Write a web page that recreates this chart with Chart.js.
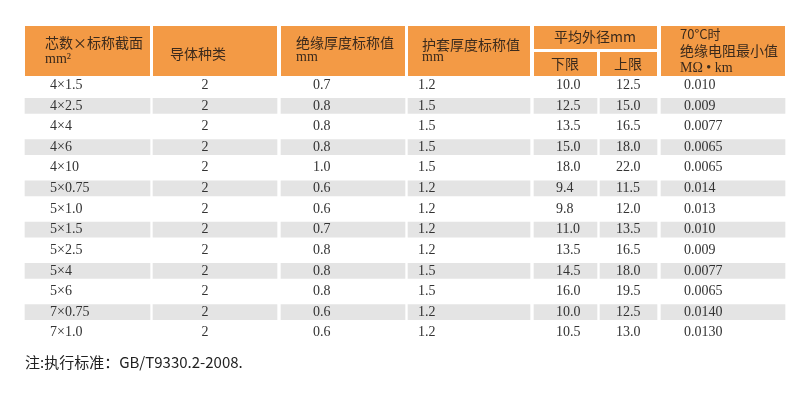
<!DOCTYPE html><html><head><meta charset="utf-8">
<script src="https://cdn.jsdelivr.net/npm/chart.js@4"></script>
<style>html,body{margin:0;background:#fff}#w{width:800px;height:409px}</style></head><body>
<div id="w"><canvas id="c"></canvas></div>
<script>
const sizes=["4×1.5","4×2.5","4×4","4×6","4×10","5×0.75","5×1.0","5×1.5","5×2.5","5×4","5×6","7×0.75","7×1.0"];
const conductor=["2","2","2","2","2","2","2","2","2","2","2","2","2"];
const insulation=["0.7","0.8","0.8","0.8","1.0","0.6","0.6","0.7","0.8","0.8","0.8","0.6","0.6"];
const sheath=["1.2","1.5","1.5","1.5","1.5","1.2","1.2","1.2","1.2","1.5","1.5","1.2","1.2"];
const odLower=["10.0","12.5","13.5","15.0","18.0","9.4","9.8","11.0","13.5","14.5","16.0","10.0","10.5"];
const odUpper=["12.5","15.0","16.5","18.0","22.0","11.5","12.0","13.5","16.5","18.0","19.5","12.5","13.0"];
const resistance=["0.010","0.009","0.0077","0.0065","0.0065","0.014","0.013","0.010","0.009","0.0077","0.0065","0.0140","0.0130"];
const footnote="注:执行标准：GB/T9330.2-2008.";

const cols=[[25,150],[153,277],[281,405],[408,530],[534,597],[600,657],[661,785]];
const textX=[50,205,313,418,556,616,684];
const columnsData=[sizes,conductor,insulation,sheath,odLower,odUpper,resistance];
const ORANGE='#f39a45';
const stripeSets=cols.map(c=>({type:'bar',grouped:false,data:sizes.map((s,i)=>i%2===1?{x:[c[0],c[1]],y:i}:null).filter(Boolean),
  backgroundColor:'#e4e4e4',barThickness:15,borderWidth:0}));

const tablePlugin={id:'table',
 beforeDatasetsDraw(ch){const ctx=ch.ctx,x=ch.scales.x;
  const box=(a,b,t,h)=>{ctx.fillStyle=ORANGE;ctx.fillRect(x.getPixelForValue(a),t,x.getPixelForValue(b)-x.getPixelForValue(a),h);};
  [0,1,2,3,6].forEach(i=>box(cols[i][0],cols[i][1],26,50));
  box(cols[4][0],cols[5][1],26,23);box(cols[4][0],cols[4][1],52,24);box(cols[5][0],cols[5][1],52,24);
 },
 afterDatasetsDraw(ch){const ctx=ch.ctx,x=ch.scales.x,y=ch.scales.y;
  const cjk='"Noto Sans CJK SC"',ser='"Liberation Serif"';
  ctx.textBaseline='middle';ctx.fillStyle='#3b2a1c';
  const t=(s,px,py,f,al)=>{ctx.font=f;ctx.textAlign=al||'left';ctx.fillText(s,x.getPixelForValue(px),py);};
  const hf='14px '+cjk, sf='14px '+ser;
  t('芯数×标称截面',45,43,hf);t('mm²',45,59,sf);
  t('导体种类',170,54,hf);
  t('绝缘厚度标称值',296,43,hf);t('mm',296,57,sf);
  t('护套厚度标称值',422,45,hf);t('mm',422,57,sf);
  t('平均外径mm',595,37,hf,'center');
  t('下限',565,64,hf,'center');t('上限',628,64,hf,'center');
  t('70°C时',680,34,'13px '+cjk);t('绝缘电阻最小值',680,51,hf);t('MΩ • km',680,68,sf);
  ctx.fillStyle='#333';
  columnsData.forEach((arr,c)=>arr.forEach((v,i)=>{
    t(v,textX[c],y.getPixelForValue(i),'14px '+ser,c===1?'center':'left');}));
  ctx.font='15px '+cjk;ctx.textAlign='left';ctx.fillStyle='#222';
  ctx.fillText(footnote,x.getPixelForValue(25),y.getPixelForValue(12)+30);
 }};

new Chart(document.getElementById('c'),{data:{datasets:stripeSets},plugins:[tablePlugin],
 options:{indexAxis:'y',responsive:true,maintainAspectRatio:false,animation:false,
  layout:{padding:{top:75,bottom:409-343,left:0,right:0}},
  plugins:{legend:{display:false},tooltip:{enabled:false}},
  scales:{x:{type:'linear',min:0,max:800,display:false},
   y:{type:'linear',min:-0.5,max:12.5,offset:false,reverse:true,display:false}}}});
</script></body></html>
